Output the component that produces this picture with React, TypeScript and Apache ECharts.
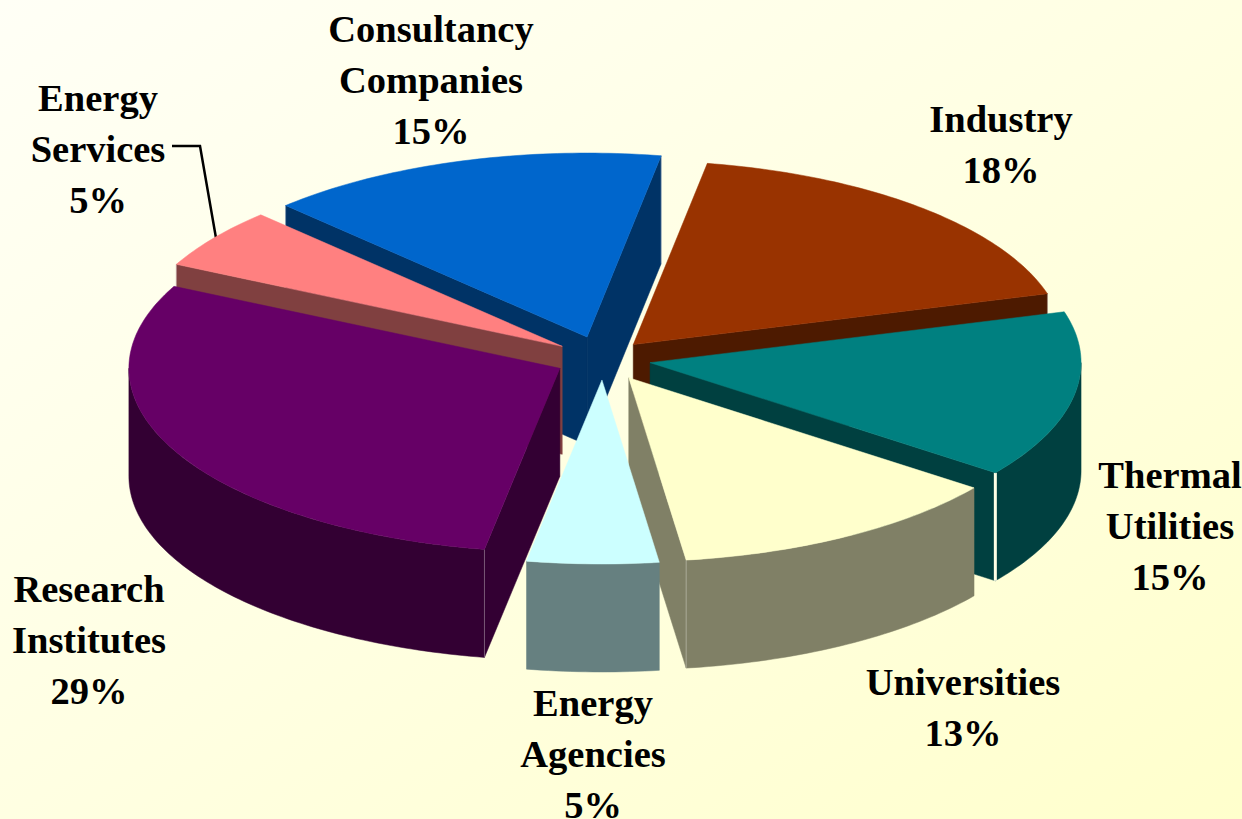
import React, { useEffect, useRef } from "react";
import * as echarts from "echarts";

// Clockwise from the start angle
const categories = ["Industry", "Thermal\nUtilities", "Universities", "Energy\nAgencies", "Research\nInstitutes", "Energy\nServices", "Consultancy\nCompanies"];
const shares = [17.7, 14.6, 12.6, 4.9, 29.4, 5.3, 15.0];
const topColors = ["#993300", "#008080", "#FFFFCC", "#CCFFFF", "#660066", "#FF8080", "#0066CC"];
const wallColors = ["#4D1A00", "#004040", "#808066", "#668080", "#330033", "#804040", "#003366"];
const explosion = [0.105, 0.111, 0.118, 0.114, 0.112, 0.117, 0.125];
const paintOrder = [6, 0, 5, 1, 4, 2, 3];
const labelCentres = [[1001, 118.5], [1170, 474.5], [963, 681.5], [593, 702.5], [89, 588.5], [98, 97.5], [431, 28.5]];

const START = 9.9, CX = 603, CY = 359, RX = 431, RY = 184, DEPTH = 108, LINE = 51;
const total = shares.reduce((a, b) => a + b, 0);
const rad = (d: number) => (d * Math.PI) / 180;

function renderSlice(_p: any, api: any) {
  const i = api.value(0);
  let from = START;
  for (let k = 0; k < i; k++) from += (shares[k] / total) * 360;
  const to = from + (api.value(1) / total) * 360;
  const mid = (from + to) / 2;
  const ax = CX + RX * explosion[i] * Math.sin(rad(mid));
  const ay = CY - RY * explosion[i] * Math.cos(rad(mid));
  const pt = (d: number, dy = 0) => [ax + RX * Math.sin(rad(d)), ay - RY * Math.cos(rad(d)) + dy];
  const arc = (a: number, b: number, dy = 0) => {
    const out: number[][] = [];
    const n = Math.max(2, Math.ceil(Math.abs(b - a)));
    for (let k = 0; k <= n; k++) out.push(pt(a + ((b - a) * k) / n, dy));
    return out;
  };
  const top = topColors[i], wall = wallColors[i];
  const children: any[] = [];
  const poly = (points: number[][], fill: string) =>
    children.push({ type: "polygon", shape: { points }, style: { fill, stroke: fill, lineWidth: 0.5 }, silent: true });
  const radial = (d: number) => {
    const p = pt(d), q = pt(d, DEPTH);
    poly([[ax, ay], p, q, [ax, ay + DEPTH]], wall);
  };
  const corner = (d: number) => {
    const p = pt(d), q = pt(d, DEPTH);
    const wide = i === 1;
    children.push({
      type: "line", shape: { x1: p[0], y1: p[1], x2: q[0], y2: q[1] }, silent: true,
      style: { stroke: wide ? "#FFFFE6" : "rgba(255,255,255,0.3)", lineWidth: wide ? 3 : 1 },
    });
  };
  const startVisible = Math.sin(rad(from)) < 0;
  const endVisible = Math.sin(rad(to)) > 0;
  if (startVisible) radial(from);
  if (endVisible) radial(to);
  // Outer wall: only the part of the rim that faces the viewer
  for (const off of [0, 360]) {
    const a = Math.max(from, 90 + off), b = Math.min(to, 270 + off);
    if (b > a) poly([...arc(a, b), ...arc(a, b, DEPTH).reverse()], wall);
  }
  if (startVisible) corner(from);
  if (endVisible) corner(to);
  poly([[ax, ay], ...arc(from, to)], top);
  return { type: "group", children };
}

export default function App() {
  const ref = useRef<HTMLDivElement>(null);
  useEffect(() => {
    const chart = echarts.init(ref.current!, undefined, { renderer: "svg" });
    chart.setOption({
      animation: false,
      backgroundColor: {
        type: "linear", x: 0, y: 0, x2: 1, y2: 1,
        colorStops: [
          { offset: 0, color: "#FFFFF6" },
          { offset: 0.5, color: "#FFFFE2" },
          { offset: 1, color: "#FFFFCC" },
        ],
      },
      series: [{
        type: "custom",
        coordinateSystem: "none",
        silent: true,
        renderItem: renderSlice,
        data: paintOrder.map((i) => ({ name: categories[i].replace("\n", " "), value: [i, shares[i]] })),
      }],
      graphic: [
        ...categories.map((c, i) => ({
          type: "text",
          x: labelCentres[i][0],
          y: labelCentres[i][1] - LINE / 2,
          silent: true,
          style: {
            text: `${c}\n${Math.round(shares[i])}%`,
            fill: "#000000",
            font: 'bold 38.5px "Liberation Serif"',
            lineHeight: LINE,
            align: "center",
            verticalAlign: "top",
          },
        })),
        {
          type: "polyline",
          silent: true,
          shape: { points: [[172, 146], [200, 146], [216, 238]] },
          style: { stroke: "#000000", lineWidth: 2.5, fill: "none" },
        },
      ],
    });
    return () => chart.dispose();
  }, []);
  return <div ref={ref} style={{ position: "fixed", left: 0, top: 0, width: 1242, height: 819 }} />;
}
